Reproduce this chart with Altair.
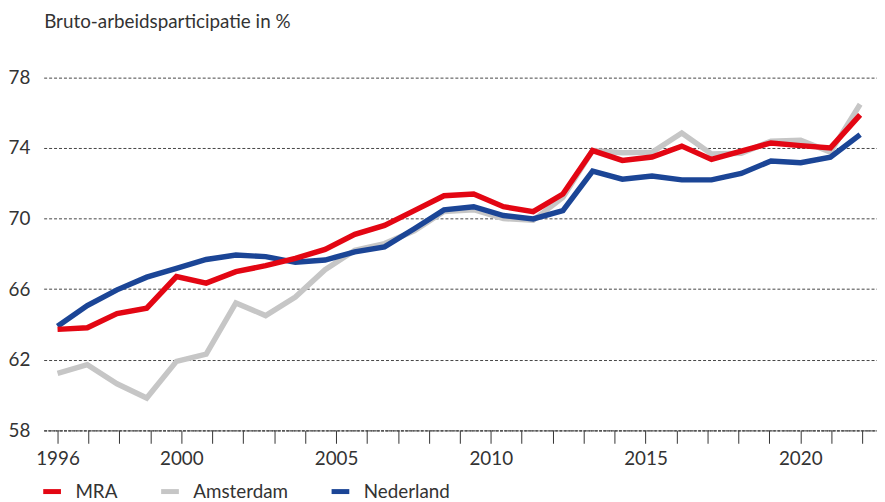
import altair as alt
import pandas as pd

# 28 measurement points, drawn on an axis labelled 1996-2022
punt = list(range(28))
mra = [63.72, 63.81, 64.62, 64.92, 66.71, 66.34, 66.99, 67.33, 67.74, 68.25,
       69.10, 69.61, 70.45, 71.29, 71.39, 70.67, 70.39, 71.39, 73.85, 73.29,
       73.48, 74.10, 73.35, 73.82, 74.28, 74.13, 74.00, 75.87]
amsterdam = [61.23, 61.72, 60.64, 59.83, 61.91, 62.32, 65.22, 64.50, 65.55, 67.10,
             68.20, 68.58, 69.30, 70.40, 70.50, 70.00, 69.90, 71.20, 73.85, 73.72,
             73.75, 74.84, 73.66, 73.70, 74.38, 74.43, 73.76, 76.47]
nederland = [63.90, 65.07, 65.96, 66.68, 67.18, 67.68, 67.93, 67.84, 67.52, 67.65,
             68.11, 68.39, 69.42, 70.49, 70.67, 70.17, 69.98, 70.45, 72.69, 72.23,
             72.41, 72.19, 72.19, 72.55, 73.26, 73.16, 73.48, 74.75]
jaren = list(range(1996, 2023))
y_ticks = [58, 62, 66, 70, 74, 78]
reeksen = ["MRA", "Amsterdam", "Nederland"]
kleuren = ["#E30613", "#C6C6C6", "#1B4596"]

rows = []
for naam, waarden in [("Amsterdam", amsterdam), ("Nederland", nederland), ("MRA", mra)]:
    for p, v in zip(punt, waarden):
        rows.append({"punt": p, "waarde": v, "reeks": naam})
df = pd.DataFrame(rows)
df_jaar = pd.DataFrame({"jaar": jaren})

FONT = "Lato"
TXT = "#333333"

color = alt.Color(
    "reeks:N",
    scale=alt.Scale(domain=reeksen, range=kleuren),
    legend=alt.Legend(
        orient="none", legendX=-24, legendY=442, direction="horizontal",
        title=None, symbolType="stroke", symbolStrokeWidth=5, symbolSize=320,
        symbolOffset=21,
        labelFontSize=19, labelFont=FONT, labelColor=TXT, labelOffset=12,
        columnPadding=20,
    ),
)

yenc = alt.Y(
    "waarde:Q",
    scale=alt.Scale(domain=[58, 80], nice=False, zero=False),
    axis=alt.Axis(
        values=y_ticks, grid=True, gridDash=[3, 2], gridColor="#444444",
        gridWidth=1, ticks=False, tickSize=0, domain=False, labelPadding=14,
        labelFontSize=19, labelFont=FONT, labelColor=TXT,
        title="Bruto-arbeidsparticipatie in %", titleAngle=0, titleX=0,
        titleY=-15, titleAlign="left", titleBaseline="alphabetic",
        titleFontSize=19, titleFontWeight="normal", titleFont=FONT,
        titleColor=TXT,
    ),
)
xenc = alt.X("punt:Q", scale=alt.Scale(domain=[-0.4667, 27.567], nice=False, zero=False), axis=None)

base = alt.Chart(df).mark_line(strokeWidth=5.5).encode(x=xenc, y=yenc, color=color)
lines = [base.transform_filter(alt.datum.reeks == n) for n in ["Amsterdam", "Nederland", "MRA"]]

axis_layer = alt.Chart(df_jaar).mark_point(opacity=0).encode(
    x=alt.X(
        "jaar:Q",
        scale=alt.Scale(domain=[1995.552, 2022.48], nice=False, zero=False),
        axis=alt.Axis(
            values=jaren, format="d",
            labelExpr="(datum.value == 1996 || datum.value % 5 == 0) ? datum.label : ''",
            tickSize=13, tickColor="#333333", tickWidth=1,
            domainColor="#444444", domainWidth=1.5, domainDash=[3, 1],
            grid=False, labelFontSize=19, labelFont=FONT, labelColor=TXT,
            labelPadding=6, labelOverlap=False, labelFlush=False, title=None,
        ),
    )
)

chart = alt.layer(axis_layer, *lines).resolve_scale(x="independent").properties(
    width=841, height=392,
    autosize=alt.AutoSizeParams(type="none"),
    padding={"left": 36, "top": 32, "right": 0, "bottom": 70},
).configure_view(stroke=None)

chart.save("out.html", embed_options={"renderer": "svg", "actions": False})
